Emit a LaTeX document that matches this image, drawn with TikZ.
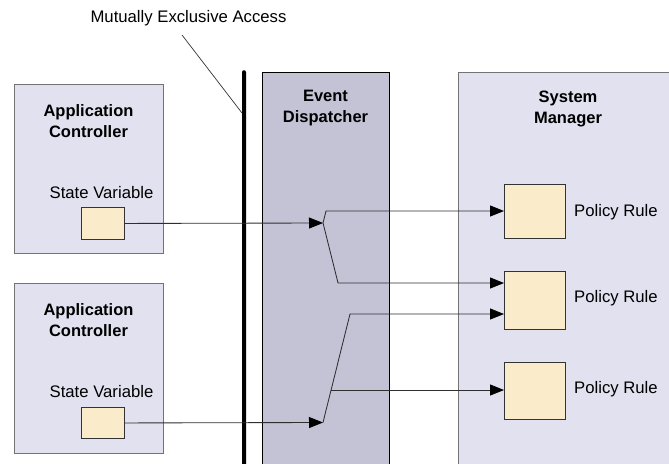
\documentclass[tikz,border=0pt]{standalone}
\usepackage{fontspec}
\setmainfont{Liberation Sans}
\usetikzlibrary{arrows.meta}
\definecolor{acfill}{HTML}{E1E1EF}
\definecolor{edfill}{HTML}{C4C3D6}
\definecolor{boxfill}{HTML}{FAEBCB}
\definecolor{linec}{HTML}{2E2E2E}
\begin{document}
\begin{tikzpicture}[x=1pt,y=-1pt,
  txt/.style={font=\fontsize{16.7}{21}\selectfont, inner sep=0},
  ttl/.style={font=\fontsize{16.5}{21}\selectfont\bfseries, align=center, inner sep=0},
  panel/.style={draw=black!55, fill=acfill, line width=0.9pt, inner sep=0, anchor=north west},
  edpanel/.style={draw=black, fill=edfill, line width=0.9pt, inner sep=0, anchor=north west},
  smallbox/.style={draw=black!80, fill=boxfill, line width=0.9pt, inner sep=0, anchor=north west},
  conn/.style={draw=linec, line width=0.85pt},
  arr/.style={conn, -{Triangle[length=14pt,width=11pt,color=black]}}]
\useasboundingbox (0,0) rectangle (669,463);
\clip (0,0) rectangle (669,463);
% panels
\node[panel, minimum width=149pt, minimum height=169pt] (ac1) at (14,84) {};
\node[panel, minimum width=149pt, minimum height=170pt] (ac2) at (14,283) {};
\node[edpanel, minimum width=127pt, minimum height=420pt] (ed) at (262,72) {};
\node[panel, minimum width=240pt, minimum height=420pt] (sm) at (458,72) {};
% titles
\node[ttl] (t1) at (88.5,121) {Application\\Controller};
\node[ttl] (t2) at (88.5,320) {Application\\Controller};
\node[ttl] (t3) at (325.5,108.5) {Event\\Dispatcher};
\node[ttl] (t4) at (568,109) {System\\Manager};
% state variables
\node[txt] (svl1) at (101.5,193) {State Variable};
\node[txt] (svl2) at (101.5,392) {State Variable};
\node[smallbox, minimum width=43pt, minimum height=32pt] (sv1) at (81,207) {};
\node[smallbox, minimum width=43pt, minimum height=31pt] (sv2) at (81,407) {};
% policy rules
\node[smallbox, minimum width=61pt, minimum height=54pt] (pr1) at (504,184) {};
\node[smallbox, minimum width=61pt, minimum height=58pt] (pr2) at (504,271) {};
\node[smallbox, minimum width=61pt, minimum height=57pt] (pr3) at (504,362) {};
\node[txt, anchor=west] (prl1) at (574,212) {Policy Rule};
\node[txt, anchor=west] (prl2) at (574,298) {Policy Rule};
\node[txt, anchor=west] (prl3) at (574,389) {Policy Rule};
% mutual exclusion bar
\node[fill=black, minimum width=4pt, minimum height=420pt, inner sep=0, anchor=north, rounded corners=2pt] (bar) at (244,70) {};
\node[txt] (mea) at (188.5,18) {Mutually Exclusive Access};
\coordinate (leadtop) at (182,35);
\coordinate (leadbot) at (242,113);
\draw[draw=black!80, line width=0.7pt] (leadtop) -- (leadbot);
% connectors
\coordinate (j1) at (323,223);
\coordinate (j1a) at (326,211);
\coordinate (j1b) at (338,283);
\draw[arr] (sv1.east) -- (j1);
\draw[arr] (j1) -- (j1a) -- (j1a -| pr1.west);
\draw[arr] (j1) -- (j1b) -- (j1b -| pr2.west);
\coordinate (j2) at (323,422.5);
\coordinate (j2top) at (350,314);
\coordinate (j2mid) at (331,390);
\draw[arr] (sv2.east) -- (j2);
\draw[arr] (j2) -- (j2top) -- (j2top -| pr2.west);
\draw[arr] (j2mid) -- (j2mid -| pr3.west);
\end{tikzpicture}
\end{document}
